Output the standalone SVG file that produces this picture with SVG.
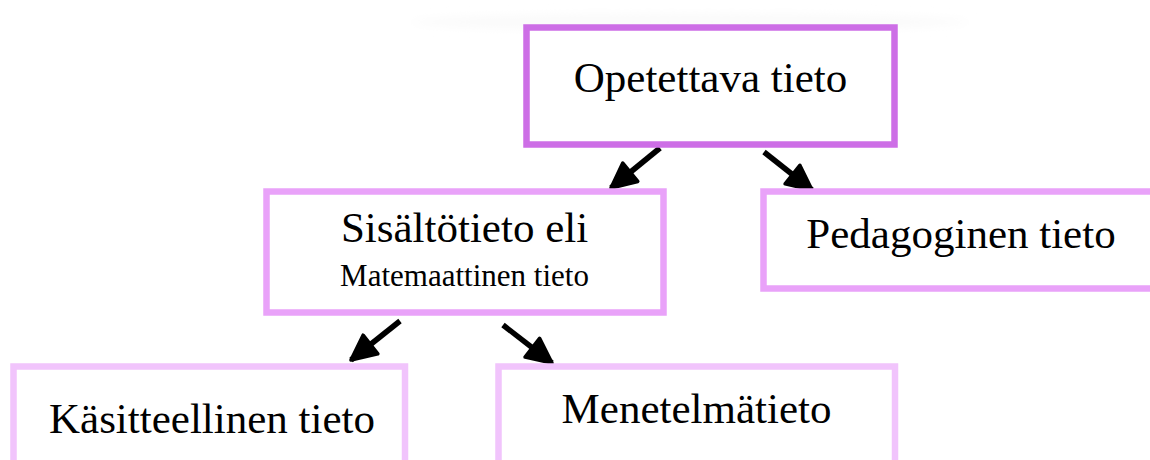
<svg xmlns="http://www.w3.org/2000/svg" width="1150" height="460" viewBox="0 0 1150 460">
<defs>
<style>
.box{fill:#fff;stroke-width:6.5}
.l1{stroke:#cd6ee6}
.l2{stroke:#e9a2f9}
.l3{stroke:#f1c4fc}
.t{font-family:"Liberation Serif","Times New Roman",serif;font-size:43px;fill:#000;text-anchor:middle}
.s{font-size:31px}
.c{stroke:#000;stroke-width:5.5;fill:none;marker-end:url(#ah)}
</style>
<marker id="ah" markerUnits="userSpaceOnUse" markerWidth="32" markerHeight="32" viewBox="-2 -13 27 26" refX="21" refY="0" orient="auto">
<path d="M0,-10 L21,0 L0,10 Z" fill="#000" stroke="#000" stroke-width="3" stroke-linejoin="round"/>
</marker>
<filter id="blur" x="-20%" y="-200%" width="140%" height="500%"><feGaussianBlur stdDeviation="5"/></filter>
</defs>
<rect width="1150" height="460" fill="#fff"/>
<ellipse cx="690" cy="22" rx="280" ry="8" fill="#fafafa" filter="url(#blur)"/>
<g id="connectors">
<line class="c" x1="660" y1="148" x2="611" y2="188"/>
<line class="c" x1="764" y1="152" x2="812" y2="190"/>
<line class="c" x1="400" y1="321" x2="351" y2="360"/>
<line class="c" x1="503" y1="325" x2="552" y2="363"/>
</g>
<g id="opetettava">
<rect class="box l1" x="526.5" y="27.5" width="368" height="117"/>
<text class="t" x="710.5" y="92">Opetettava tieto</text>
</g>
<g id="sisaltotieto">
<rect class="box l2" x="266.5" y="191.5" width="397" height="121"/>
<text class="t" x="464.5" y="242">Sisältötieto eli</text>
<text class="t s" x="464.5" y="286">Matemaattinen tieto</text>
</g>
<g id="pedagoginen">
<rect class="box l2" x="763.5" y="191.5" width="400" height="97"/>
<text class="t" x="961" y="248">Pedagoginen tieto</text>
</g>
<g id="kasitteellinen">
<rect class="box l3" x="13.5" y="366.5" width="391.5" height="120"/>
<text class="t" x="212" y="432.5">Käsitteellinen tieto</text>
</g>
<g id="menetelmatieto">
<rect class="box l3" x="498.5" y="366.5" width="396.5" height="120"/>
<text class="t" x="696.5" y="422.5">Menetelmätieto</text>
</g>
</svg>
